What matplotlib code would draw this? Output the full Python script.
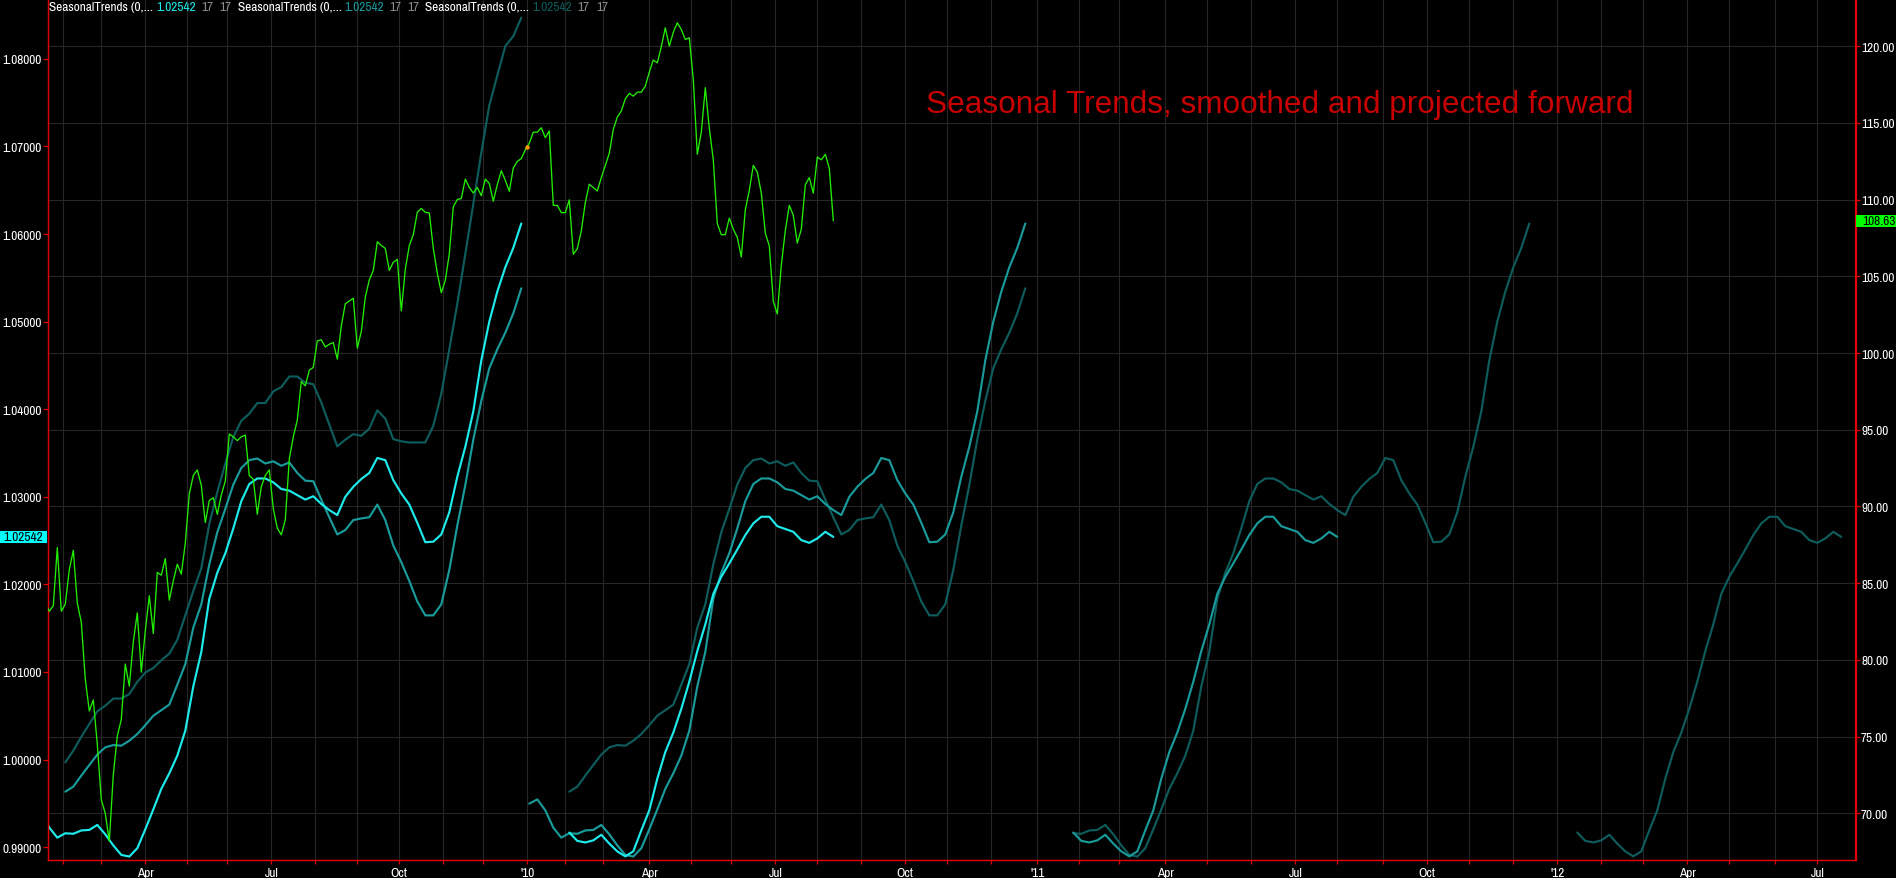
import numpy as np
import pandas as pd
import matplotlib
matplotlib.use("Agg")
import matplotlib.pyplot as plt
from matplotlib.patches import Rectangle
from matplotlib.transforms import blended_transform_factory
from matplotlib.ticker import FixedLocator, FixedFormatter, FormatStrFormatter

# ---------------------------------------------------------------- data
FIRST_BAR_DATE = "2009-01-20"          # bar 0 of the chart (trading-day axis)
CALENDAR_END = "2012-12-31"
EXCHANGE_HOLIDAYS = ["2009-02-16", "2009-04-10", "2009-05-25", "2009-07-03",
                     "2009-09-07", "2009-11-26", "2009-12-25", "2010-01-01",
                     "2010-01-18", "2010-02-15", "2010-04-02", "2010-05-31",
                     "2010-07-05"]
PROJECTION_BARS = 252                  # each seasonal year is projected 252 bars ahead

# seasonal curves (left axis), one value every 4 bars, bar index relative to 2009
SEASONAL_STEP = 4
SEASONAL_A_START = -10
SEASONAL_A = [0.99496, 0.99545, 0.99420, 0.99222, 0.99108, 0.99158, 0.99152, 0.99190,
              0.99196, 0.99253, 0.99146, 0.99019, 0.98911, 0.98892, 0.98987, 0.99203,
              0.99430, 0.99665, 0.99842, 1.00044, 1.00329, 1.00835, 1.01228, 1.01835,
              1.02133, 1.02354, 1.02639, 1.02949, 1.03146, 1.03209, 1.03209, 1.03165,
              1.03089, 1.03070, 1.03019, 1.02968, 1.03006, 1.02918, 1.02848, 1.02791,
              1.03000, 1.03114, 1.03203, 1.03272, 1.03443, 1.03418, 1.03190, 1.03038,
              1.02911, 1.02703, 1.02481, 1.02487, 1.02570, 1.02823, 1.03228, 1.03570,
              1.03975, 1.04557, 1.05000, 1.05342, 1.05620, 1.05842, 1.06120]
SEASONAL_B_START = 10
SEASONAL_B = [0.99633, 0.99690, 0.99816, 0.99937, 1.00057, 1.00139, 1.00165, 1.00158,
              1.00215, 1.00291, 1.00392, 1.00500, 1.00563, 1.00627, 1.00854, 1.01089,
              1.01506, 1.01772, 1.02228, 1.02595, 1.02861, 1.03139, 1.03329, 1.03418,
              1.03437, 1.03380, 1.03405, 1.03354, 1.03392, 1.03272, 1.03184, 1.03177,
              1.02968, 1.02766, 1.02570, 1.02620, 1.02734, 1.02753, 1.02766, 1.02911,
              1.02734, 1.02443, 1.02253, 1.02038, 1.01804, 1.01646, 1.01646, 1.01772,
              1.02165, 1.02671, 1.03133, 1.03652, 1.04095, 1.04468, 1.04684, 1.04873,
              1.05095, 1.05380]
SEASONAL_C_START = 10
SEASONAL_C = [0.99968, 1.00101, 1.00259, 1.00405, 1.00551, 1.00614, 1.00696, 1.00696,
              1.00747, 1.00886, 1.00994, 1.01044, 1.01133, 1.01209, 1.01367, 1.01646,
              1.01924, 1.02184, 1.02690, 1.03051, 1.03380, 1.03684, 1.03867, 1.03949,
              1.04070, 1.04070, 1.04203, 1.04253, 1.04373, 1.04373, 1.04304, 1.04285,
              1.04076, 1.03823, 1.03576, 1.03652, 1.03715, 1.03696, 1.03778, 1.03987,
              1.03892, 1.03658, 1.03633, 1.03620, 1.03620, 1.03620, 1.03810, 1.04177,
              1.04684, 1.05203, 1.05772, 1.06342, 1.06930, 1.07468, 1.07810, 1.08146,
              1.08259, 1.08470]
SEASONAL_D_START = 10
SEASONAL_D = [0.99166, 0.99071, 0.99053, 0.99077, 0.99141, 0.99040, 0.98951, 0.98894,
              0.98951, 0.99191, 0.99420, 0.99781, 1.00085, 1.00307, 1.00579, 1.00889,
              1.01238, 1.01543, 1.01891, 1.02087, 1.02239, 1.02398, 1.02563, 1.02696,
              1.02772, 1.02772, 1.02664, 1.02632, 1.02600, 1.02505, 1.02474, 1.02524,
              1.02600, 1.02542]

# price (right axis), one value every 2 trading days from bar 0
PRICE_STEP = 2
PRICE = [83.71, 83.17, 83.53, 87.32, 83.17, 83.64, 85.88, 87.14, 83.71, 82.45,
         78.73, 76.67, 77.39, 74.50, 70.89, 69.99, 68.18, 72.51, 75.04, 76.12,
         79.73, 78.29, 81.18, 83.06, 79.20, 81.90, 84.18, 81.72, 85.70, 85.52,
         86.60, 83.89, 85.15, 86.24, 85.59, 87.61, 90.82, 92.02, 92.38, 91.37,
         88.95, 90.39, 90.57, 89.49, 90.75, 91.65, 94.72, 94.54, 94.29, 94.54,
         94.65, 92.02, 91.76, 89.49, 91.29, 92.02, 92.38, 89.85, 88.58, 88.15,
         89.13, 93.10, 94.54, 95.63, 98.15, 97.86, 98.88, 99.06, 100.79, 100.86,
         100.39, 100.57, 100.68, 99.60, 101.76, 103.21, 103.39, 103.57, 100.32, 101.40,
         103.64, 104.76, 105.38, 107.25, 107.00, 106.82, 105.38, 105.92, 106.10, 102.74,
         105.45, 107.00, 107.72, 109.17, 109.42, 109.17, 109.13, 106.82, 105.20, 103.93,
         104.73, 106.46, 109.53, 110.00, 110.07, 111.33, 110.79, 110.43, 110.79, 110.25,
         111.33, 111.05, 109.89, 110.97, 111.88, 111.26, 110.54, 112.06, 112.49, 112.67,
         113.24, 113.67, 114.39, 114.39, 114.68, 114.03, 114.47, 109.62, 109.62, 109.15,
         109.15, 109.98, 106.44, 106.80, 107.96, 109.80, 111.00, 110.78, 110.56, 111.43,
         112.23, 113.02, 114.57, 115.37, 115.77, 116.56, 116.92, 116.74, 117.00, 117.00,
         117.39, 118.30, 119.09, 118.91, 119.96, 121.19, 120.00, 120.90, 121.52, 121.08,
         120.43, 120.54, 117.83, 112.95, 114.39, 117.29, 114.65, 112.59, 108.43, 107.71,
         107.71, 108.79, 108.07, 107.53, 106.26, 109.33, 110.60, 112.23, 111.79, 110.42,
         107.82, 106.98, 103.37, 102.54, 105.72, 107.96, 109.62, 108.97, 107.16, 108.07,
         110.96, 111.43, 110.42, 112.77, 112.59, 112.95, 112.04, 108.63]
PRICE_LAST = 108.63
SEASONAL_LAST = 1.02542
MARKER_BAR = 241
MARKER_VALUE = 113.42

LEGEND_NAME = "SeasonalTrends (0,..."
LEGEND_PARAMS = ["17", "17"]
TITLE = "Seasonal Trends, smoothed and projected forward"
QUARTER_NAMES = {4: "Apr", 7: "Jul", 10: "Oct"}
LEFT_TICKS = [0.99, 1.00, 1.01, 1.02, 1.03, 1.04, 1.05, 1.06, 1.07, 1.08]
RIGHT_TICKS = [70, 75, 80, 85, 90, 95, 100, 105, 110, 115, 120]

# ---------------------------------------------------------------- style
W, H = 1896, 879
BG = "#000000"
RED = "#E00000"
GRID = "#262626"
BRIGHT = "#1EEBEB"
MEDIUM = "#1A9B9B"
DARK = "#0E5C5C"
GREEN = "#22EE00"
NARROW = ["Archivo Narrow", "Roboto Condensed", "PT Sans Narrow", "Liberation Sans", "DejaVu Sans"]
plt.rcParams["font.family"] = NARROW

fig = plt.figure(figsize=(W / 100, H / 100), dpi=100, facecolor=BG)

# size the narrow label font so that "1.08000" is ~39 px wide, as in the reference
probe = fig.text(0, 0, "1.08000", fontsize=10)
fig.canvas.draw()
FS = 10 * 39.0 / probe.get_window_extent().width
probe.remove()

# trading-day calendar: exchange days while price exists, weekdays afterwards
days = pd.bdate_range(FIRST_BAR_DATE, CALENDAR_END)
days = days[~days.isin(pd.to_datetime(EXCHANGE_HOLIDAYS))]
month_first = [i for i in range(1, len(days)) if days[i].month != days[i - 1].month]
major_pos, major_lab, minor_pos = [], [], []
for i in month_first:
    m = days[i].month
    if m == 1:
        major_pos.append(i); major_lab.append("'" + days[i].strftime("%y"))
    elif m in QUARTER_NAMES:
        major_pos.append(i); major_lab.append(QUARTER_NAMES[m])
    else:
        minor_pos.append(i)

L, R, T, B = 47.5, 1855.5, 0, 861
ax = fig.add_axes([L / W, (H - B) / H, (R - L) / W, (B - T) / H])
ax.set_facecolor(BG)
ax.set_xlim(1.1, 1.1 + (R - L) / 2)
ax.set_ylim(0.988527, 1.086836)
ax2 = ax.twinx()
ax2.set_ylim(66.96, 123.07)

# grid: monthly verticals, horizontals at right-axis ticks
for p in major_pos + minor_pos:
    ax.axvline(p, color=GRID, lw=0.8, zorder=0)
ylo, yhi = ax.get_ylim(); y2lo, y2hi = ax2.get_ylim()
for v in RIGHT_TICKS:
    ax.axhline(ylo + (v - y2lo) / (y2hi - y2lo) * (yhi - ylo), color=GRID, lw=0.8, zorder=0)

curves = {"A": (SEASONAL_A_START, SEASONAL_A), "B": (SEASONAL_B_START, SEASONAL_B),
          "C": (SEASONAL_C_START, SEASONAL_C), "D": (SEASONAL_D_START, SEASONAL_D)}
series = [
    (DARK, [("C", 0, None), ("B", 1, None), ("A", 2, 10), ("D", 3, None)]),
    (MEDIUM, [("B", 0, None), ("A", 1, None), ("D", 2, None)]),
    (BRIGHT, [("A", 0, None), ("D", 1, None)]),
]
for color, parts in series:
    for name, k, clip in parts:
        start, vals = curves[name]
        rel = start + SEASONAL_STEP * np.arange(len(vals))
        vals = np.asarray(vals)
        if clip is not None:
            keep = rel >= clip
            rel, vals = rel[keep], vals[keep]
        ax.plot(rel + k * PROJECTION_BARS, vals, color=color, lw=1.55,
                solid_joinstyle="round", solid_capstyle="round", zorder=3)

ax2.plot(PRICE_STEP * np.arange(len(PRICE)), PRICE, color=GREEN, lw=0.95, zorder=4)
ax2.plot([MARKER_BAR], [MARKER_VALUE], "o", color="#FF9900", ms=3.2, mec="none", zorder=5)

# axes cosmetics
for a in (ax, ax2):
    a.spines["top"].set_visible(False)
    for s in ("left", "right", "bottom"):
        a.spines[s].set_color(RED)
        a.spines[s].set_linewidth(0.9)
ax.xaxis.set_major_locator(FixedLocator(major_pos))
ax.xaxis.set_major_formatter(FixedFormatter(major_lab))
ax.xaxis.set_minor_locator(FixedLocator(minor_pos))
ax.tick_params(axis="x", which="both", colors=RED, labelcolor="white", length=3.2,
               width=0.9, pad=1.8, labelsize=FS)
ax.set_yticks(LEFT_TICKS)
ax.yaxis.set_major_formatter(FormatStrFormatter("%.5f"))
ax.tick_params(axis="y", colors=RED, labelcolor="white", length=3.6, width=0.9,
               pad=0.4, labelsize=FS)
ax2.set_yticks(RIGHT_TICKS)
ax2.yaxis.set_major_formatter(FormatStrFormatter("%.2f"))
ax2.tick_params(axis="y", colors=RED, labelcolor="white", length=3.4, width=0.9,
                pad=0.6, labelsize=FS)

# last-value flags on both axes
tl = blended_transform_factory(fig.transFigure, ax.transData)
hl = 12.4 * (yhi - ylo) / (B - T)
ax.add_patch(Rectangle((0, SEASONAL_LAST - hl / 2), 47.3 / W, hl, transform=tl,
                       facecolor="#00FFFF", edgecolor="none", clip_on=False, zorder=6))
ax.text(43.5 / W, SEASONAL_LAST, "%.5f" % SEASONAL_LAST, transform=tl, ha="right",
        va="center", color="black", fontsize=FS, zorder=7, clip_on=False)
tr = blended_transform_factory(fig.transFigure, ax2.transData)
hr = 12.0 * (y2hi - y2lo) / (B - T)
ax2.add_patch(Rectangle((1856 / W, PRICE_LAST - hr / 2), 40 / W, hr, transform=tr,
                        facecolor="#00FF00", edgecolor="none", clip_on=False, zorder=6))
ax2.text(1862 / W, PRICE_LAST, "%.2f" % PRICE_LAST, transform=tr, ha="left",
         va="center", color="black", fontsize=FS, zorder=7, clip_on=False)

# indicator legend row
ly = 1 - 7.5 / H
row = [(49, LEGEND_NAME, "white"), (156.3, "%.5f" % SEASONAL_LAST, BRIGHT),
       (201, LEGEND_PARAMS[0], "#8C8C8C"), (219.6, LEGEND_PARAMS[1], "#8C8C8C"),
       (237.5, LEGEND_NAME, "white"), (344.6, "%.5f" % SEASONAL_LAST, MEDIUM),
       (389.3, LEGEND_PARAMS[0], "#8C8C8C"), (407.6, LEGEND_PARAMS[1], "#8C8C8C"),
       (425.4, LEGEND_NAME, "white"), (532.6, "%.5f" % SEASONAL_LAST, DARK),
       (576.8, LEGEND_PARAMS[0], "#8C8C8C"), (596, LEGEND_PARAMS[1], "#8C8C8C")]
for x, s, c in row:
    fig.text(x / W, ly, s, color=c, fontsize=FS, ha="left", va="center")

# title
t = fig.text(926.5 / W, 1 - 113.5 / H, TITLE, color="#C80000", fontsize=22,
             ha="left", va="baseline", family=["Liberation Sans", "DejaVu Sans"])
fig.canvas.draw()
wpx = t.get_window_extent().width
t.set_fontsize(22 * 704.0 / wpx)

fig.savefig("out.png", dpi=100, facecolor=BG)
